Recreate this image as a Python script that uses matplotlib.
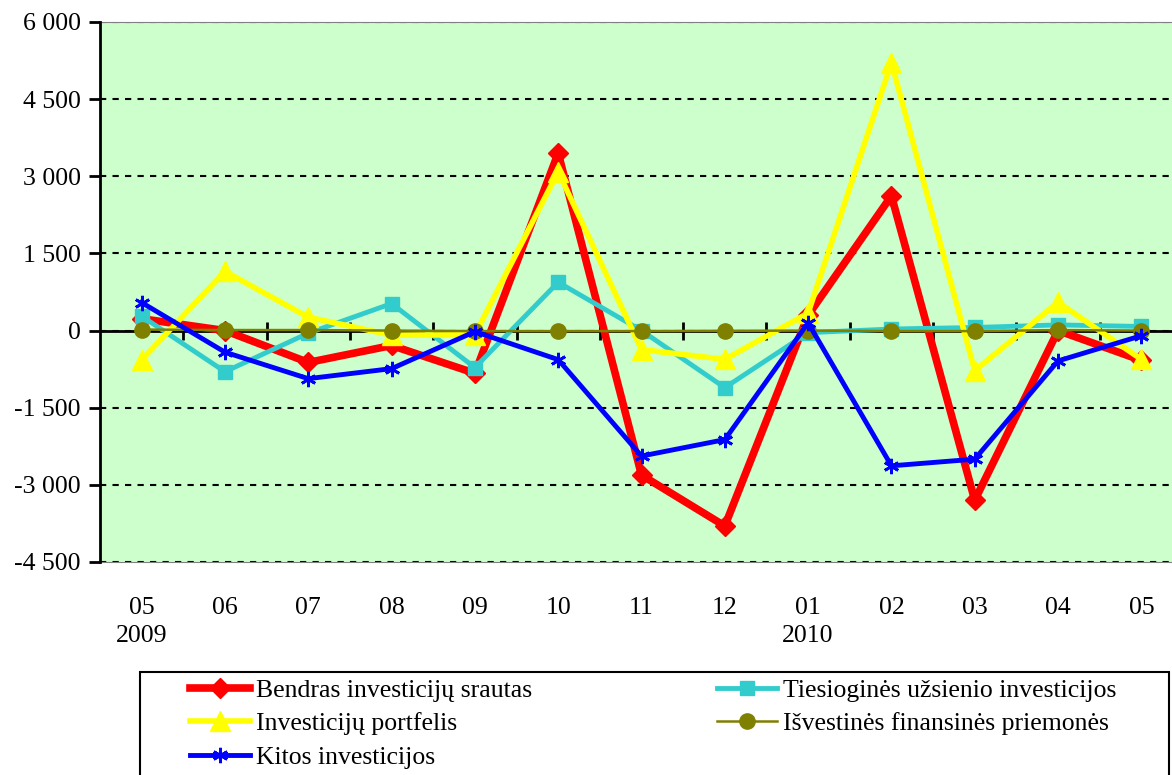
import numpy as np
import matplotlib
matplotlib.use("Agg")
import matplotlib.pyplot as plt
from matplotlib.ticker import FuncFormatter
from matplotlib.patches import Rectangle

months = ["05", "06", "07", "08", "09", "10", "11", "12", "01", "02", "03", "04", "05"]
years = {0: "2009", 8: "2010"}

bendras = [230, 0, -620, -290, -830, 3450, -2810, -3800, 300, 2620, -3300, 0, -580]
tiesiogines = [280, -800, -50, 525, -720, 940, 0, -1110, -40, 30, 60, 110, 80]
portfelis = [-570, 1150, 260, -90, -80, 3090, -370, -560, 340, 5210, -780, 550, -560]
isvestines = [20, 10, 10, 0, -10, -10, -10, -5, 0, -10, -10, 10, 0]
kitos = [545, -420, -935, -740, -20, -565, -2440, -2120, 150, -2630, -2500, -590, -100]

plt.rcParams['font.family'] = ['Liberation Serif', 'DejaVu Serif']
FS = 18.5

fig = plt.figure(figsize=(11.72, 7.75), dpi=100)
ax = fig.add_axes([100 / 1172, 1 - 562 / 775, (1183 - 100) / 1172, (562 - 22) / 775])
ax.set_facecolor("#CCFFCC")

x = np.arange(len(months))
l1, = ax.plot(x, bendras, color="#FF0000", lw=5.5, marker="D", ms=10, label="Bendras investicijų srautas", zorder=3)
l2, = ax.plot(x, tiesiogines, color="#33CCCC", lw=3.5, marker="s", ms=10, label="Tiesioginės užsienio investicijos", zorder=4)
l3, = ax.plot(x, portfelis, color="#FFFF00", lw=4, marker="^", ms=15, label="Investicijų portfelis", zorder=5)
l4, = ax.plot(x, isvestines, color="#808000", lw=1.8, marker="o", ms=11, label="Išvestinės finansinės priemonės", zorder=6)
l5, = ax.plot(x, kitos, color="#0000FF", lw=3.5, marker=(6, 2, 0), ms=11, mew=2, label="Kitos investicijos", zorder=7)

ax.set_xlim(-0.5, len(months) - 0.5)
ax.set_ylim(-4500, 6000)
ax.set_yticks(np.arange(-4500, 6001, 1500))
ax.yaxis.set_major_formatter(FuncFormatter(lambda v, p: f"{int(v):,}".replace(",", " ")))
ax.grid(axis="y", color="black", linestyle=(0, (3, 3)), lw=1.5, zorder=1)

labels = [m + ("\n" + years[i] if i in years else "") for i, m in enumerate(months)]
ax.set_xticks(x)
ax.set_xticklabels(labels, fontsize=FS, linespacing=1.35, va="top")
ax.tick_params(axis="x", length=0, pad=25)
ax.tick_params(axis="y", labelsize=FS, length=8, width=2, pad=6)

for s in ["top", "bottom"]:
    ax.spines[s].set_color("#808080")
ax.spines["right"].set_visible(False)
ax.spines["left"].set_linewidth(2)
ax.spines["left"].set_zorder(8)

# zero axis with category separators
zero_pos = (0 - (-4500)) / (6000 - (-4500))
sec = ax.secondary_xaxis(zero_pos)
sec.set_xticks(x[:-1] + 0.5)
sec.set_xticklabels([])
sec.tick_params(direction="inout", length=13, width=2, color="black")
sec.spines["bottom"].set_linewidth(2)
sec.spines["bottom"].set_color("black")
sec.set_zorder(2)

# legend box
fig.patches.append(Rectangle((140 / 1172, -0.05), (1169 - 140) / 1172, 0.05 + 1 - 672 / 775,
                             transform=fig.transFigure, fill=False, edgecolor="black", lw=1.5))
leg = fig.legend(handles=[l1, l3, l5, l2, l4], ncol=2, loc="upper left",
                 bbox_to_anchor=(190 / 1172, 0, (1116 - 190) / 1172, 1 - 679 / 775),
                 mode="expand", fontsize=FS, frameon=False,
                 handlelength=2.35, handletextpad=0.2,
                 labelspacing=0.4, borderpad=0, borderaxespad=0)

fig.savefig("out.png", dpi=100)
